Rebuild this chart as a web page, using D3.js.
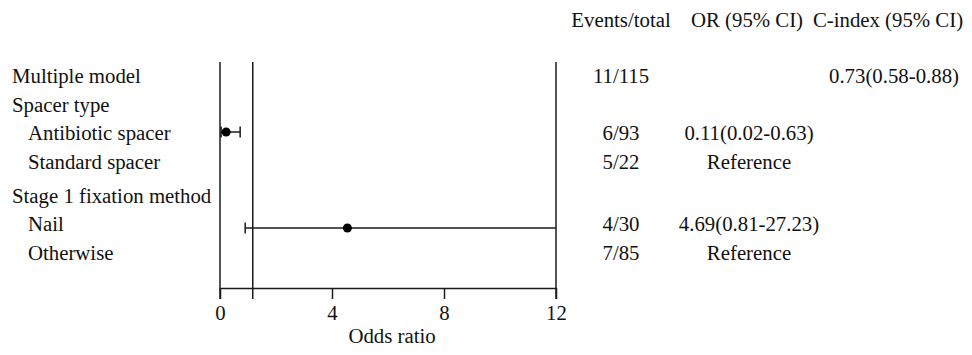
<!DOCTYPE html>
<html>
<head>
<meta charset="utf-8">
<script src="https://cdn.jsdelivr.net/npm/d3@7"></script>
<style>
  body { margin: 0; background: #fff; }
  svg text { font-family: "Liberation Serif", "DejaVu Serif", serif; font-size: 20.8px; fill: #111; }
</style>
</head>
<body>
<script>
// rows of the forest plot
var labels = ["Multiple model", "Spacer type", "Antibiotic spacer", "Standard spacer",
              "Stage 1 fixation method", "Nail", "Otherwise"];
var indent = [0, 0, 1, 1, 0, 1, 1];
var block  = [0, 0, 0, 0, 1, 1, 1];
var events = ["11/115", "", "6/93", "5/22", "", "4/30", "7/85"];
var orText = ["", "", "0.11(0.02-0.63)", "Reference", "", "4.69(0.81-27.23)", "Reference"];
var cIndex = ["0.73(0.58-0.88)", "", "", "", "", "", ""];

// plotted estimates (as drawn)
var orEst  = [null, null, 0.22, null, null, 4.55, null];
var ciLow  = [null, null, 0.04, null, null, 0.9, null];
var ciHigh = [null, null, 0.72, null, null, 12, null];

var xTicks = [0, 4, 8, 12];
var refLine = 1.17;
var headers = ["Events/total", "OR (95% CI)", "C-index (95% CI)"];

var width = 972, height = 355;

var svg = d3.select("body").append("svg")
    .attr("width", width)
    .attr("height", height);

var blockGap = 0.2;
var x = d3.scaleLinear().domain([0, 12]).range([220, 556]);
var yPlot = d3.scaleLinear().domain([0, 6]).range([68, 260]);
var yText = d3.scaleLinear().domain([0, 6 + blockGap]).range([83, 260]);
var plotTop = 62, axisY = 288, tickLen = 11;

var rows = labels.map(function(d, i) {
  return { label: d, indent: indent[i], events: events[i], or: orText[i], c: cIndex[i],
           est: orEst[i], lo: ciLow[i], hi: ciHigh[i], i: i, slot: i + block[i] * blockGap };
});

// column headers
var colX = [621, 747, 888];
svg.selectAll(".hdr")
    .data(headers)
  .enter().append("text")
    .attr("class", "hdr")
    .attr("x", function(d, i) { return colX[i]; })
    .attr("y", 27)
    .attr("text-anchor", "middle")
    .text(function(d) { return d; });

// row labels
svg.selectAll(".lbl")
    .data(rows)
  .enter().append("text")
    .attr("x", function(d) { return d.indent ? 28 : 12; })
    .attr("y", function(d) { return yText(d.slot); })
    .text(function(d) { return d.label; });

// table columns
var cols = [["events", 621], ["or", 749], ["c", 894]];
cols.forEach(function(c) {
  svg.selectAll(".col-" + c[0])
      .data(rows.filter(function(d) { return d[c[0]]; }))
    .enter().append("text")
      .attr("x", c[1])
      .attr("y", function(d) { return yText(d.slot); })
      .attr("text-anchor", "middle")
      .text(function(d) { return d[c[0]]; });
});

var lineColor = "#1a1a1a";

// vertical frame lines at 0, reference and 12
svg.selectAll(".vline")
    .data([0, refLine, 12])
  .enter().append("line")
    .attr("x1", function(d) { return x(d); })
    .attr("x2", function(d) { return x(d); })
    .attr("y1", plotTop)
    .attr("y2", axisY + tickLen)
    .attr("stroke", lineColor)
    .attr("stroke-width", 1.5);

// x axis
var axis = svg.append("g")
    .attr("transform", "translate(0," + axisY + ")")
    .call(d3.axisBottom(x).tickValues(xTicks).tickSize(tickLen).tickSizeOuter(0).tickPadding(6));
axis.select(".domain").attr("stroke", lineColor).attr("stroke-width", 1.5);
axis.selectAll(".tick line").attr("stroke", lineColor).attr("stroke-width", 1.5);
axis.selectAll(".tick text")
    .attr("font-family", "Liberation Serif, serif")
    .attr("font-size", 20.8)
    .attr("fill", "#111");

svg.append("text")
    .attr("x", 392)
    .attr("y", 343)
    .attr("text-anchor", "middle")
    .text("Odds ratio");

// confidence intervals
var ci = rows.filter(function(d) { return d.est != null; });

var g = svg.selectAll(".ci")
    .data(ci)
  .enter().append("g");

g.append("line")
    .attr("x1", function(d) { return x(d.lo); })
    .attr("x2", function(d) { return x(d.hi); })
    .attr("y1", function(d) { return yPlot(d.i); })
    .attr("y2", function(d) { return yPlot(d.i); })
    .attr("stroke", lineColor)
    .attr("stroke-width", 1.5);

// whisker caps (none where the interval is clipped at the axis end)
g.selectAll(".cap")
    .data(function(d) {
      return [d.lo, d.hi].filter(function(v) { return v < 12; })
        .map(function(v) { return { v: v, i: d.i }; });
    })
  .enter().append("line")
    .attr("x1", function(d) { return x(d.v); })
    .attr("x2", function(d) { return x(d.v); })
    .attr("y1", function(d) { return yPlot(d.i) - 5.5; })
    .attr("y2", function(d) { return yPlot(d.i) + 5.5; })
    .attr("stroke", lineColor)
    .attr("stroke-width", 1.5);

g.append("circle")
    .attr("cx", function(d) { return x(d.est); })
    .attr("cy", function(d) { return yPlot(d.i); })
    .attr("r", 4.5)
    .attr("fill", "#000");
</script>
</body>
</html>
